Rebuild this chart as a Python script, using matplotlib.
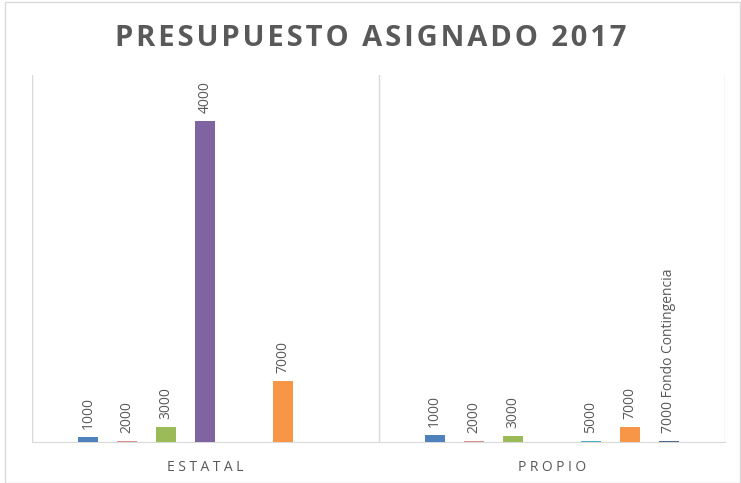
import numpy as np
import matplotlib.pyplot as plt
from matplotlib.patches import Rectangle

categories = ['ESTATAL', 'PROPIO']
series = ['1000', '2000', '3000', '4000', '5000', '7000', '7000 Fondo Contingencia']
colors = ['#4f81bd', '#d9908e', '#9bbb59', '#8064a2', '#4bacc6', '#f79646', '#4a6a90']

# values per series: [ESTATAL, PROPIO]  (nan = no bar, no label)
v1000 = [50000, 70000]
v2000 = [8000, 8000]
v3000 = [150000, 60000]
v4000 = [3210000, np.nan]
v5000 = [np.nan, 8000]
v7000 = [610000, 150000]
vfondo = [np.nan, 8000]
values = [v1000, v2000, v3000, v4000, v5000, v7000, vfondo]

fig = plt.figure(figsize=(7.41, 4.83), dpi=100)
ax = fig.add_axes([32 / 741, 41 / 483, 693 / 741, 367 / 483])

slot = 39 / 346.5
width = 20 / 346.5
x = np.arange(len(categories))
fonts = ['Open Sans', 'DejaVu Sans']

for i, (name, vals, col) in enumerate(zip(series, values, colors)):
    pos = x + (i - 3) * slot
    ax.bar(pos, vals, width=width, color=col, zorder=3)
    for p, v in zip(pos, vals):
        if np.isnan(v):
            continue
        ax.annotate(name, (p, v), xytext=(0, 6), textcoords='offset points',
                    rotation=90, ha='center', va='bottom', fontsize=10,
                    color='#595959', family=fonts)

ax.set_xlim(-0.5, 1.5)
ax.set_ylim(0, 3670000)
ax.set_yticks([])
ax.set_xticks(x)
ax.set_xticklabels(['\u2005'.join(c) for c in categories], fontsize=10,
                   color='#595959', family=fonts)
ax.tick_params(axis='x', length=0, pad=13)
for s in ['top', 'right', 'left']:
    ax.spines[s].set_visible(False)
ax.spines['bottom'].set_color('#d9d9d9')
for b in [-0.5, 0.5, 1.5]:
    ax.axvline(b, color='#d9d9d9', lw=1, zorder=1)

title = '\u200a'.join('PRESUPUESTO ASIGNADO 2017')
fig.text(0.5, 1 - 38 / 483, title,
         ha='center', va='center', fontsize=21, fontweight='bold',
         color='#595959', family=fonts)

fig.patches.append(Rectangle((5 / 741, 0), 735 / 741, 481 / 483, transform=fig.transFigure,
                             fill=False, edgecolor='#d9d9d9', lw=1))

fig.savefig('out.png', dpi=100)
